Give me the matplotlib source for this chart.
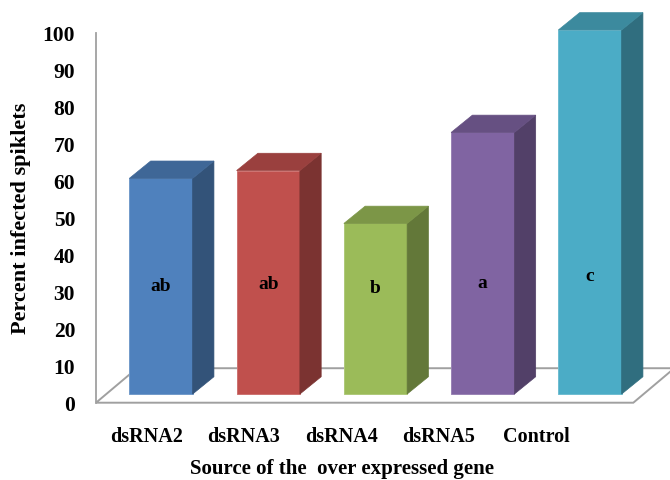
import matplotlib
matplotlib.use("Agg")
import matplotlib.pyplot as plt
from matplotlib.patches import Polygon
from matplotlib.colors import to_rgb

# Data
categories = ["dsRNA2", "dsRNA3", "dsRNA4", "dsRNA5", "Control"]
infected = [58.3, 60.4, 46.1, 70.7, 98.4]
letters = ["ab", "ab", "b", "a", "c"]
letter_y = [31.5, 32.0, 31.0, 32.4, 34.2]
yticks = list(range(0, 101, 10))

colors = ["#4F81BD", "#C0504D", "#9BBB59", "#8064A2", "#4BACC6"]

plt.rcParams["font.family"] = ["Liberation Serif", "DejaVu Serif"]
plt.rcParams["font.weight"] = "bold"

W, H = 670, 480
fig = plt.figure(figsize=(W / 100, H / 100), dpi=100)
ax = fig.add_axes([96 / W, (H - 403.3) / H, (W - 96) / W, 370 / H])

x_left, x_right = -0.606, 4.746
ax.set_xlim(x_left, x_right)
ax.set_ylim(0, 100)

# oblique projection parameters
bar_w = 0.59
bar_dx, bar_dy = 0.1986, 4.68      # depth of each column
base = 2.5                         # column foot sits behind the floor front edge
floor_front = 0.16
floor_right = 4.404
floor_dx, floor_dy = 0.382, 9.32

def shade(c, f):
    r, g, b = to_rgb(c)
    return (r * f, g * f, b * f)

def tint(c, f):
    r, g, b = to_rgb(c)
    return (r + (1 - r) * f, g + (1 - g) * f, b + (1 - b) * f)

# floor
floor = Polygon([(x_left, floor_front), (floor_right, floor_front),
                 (floor_right + floor_dx, floor_front + floor_dy),
                 (x_left + floor_dx, floor_front + floor_dy)],
                closed=True, facecolor="white", edgecolor="#A0A0A0",
                linewidth=1.4, zorder=1, clip_on=False)
ax.add_patch(floor)

xs = list(range(len(categories)))
bars = ax.bar(xs, infected, width=bar_w, bottom=base, color=colors,
              edgecolor=[tint(c, 0.2) for c in colors], linewidth=0.7, zorder=3)
for b in bars:
    b.set_clip_on(False)

for x, v, c in zip(xs, infected, colors):
    l, r = x - bar_w / 2, x + bar_w / 2
    t = base + v
    top = Polygon([(l, t), (r, t), (r + bar_dx, t + bar_dy), (l + bar_dx, t + bar_dy)],
                  closed=True, facecolor=shade(c, 0.80),
                  edgecolor=shade(c, 0.80), linewidth=0.5, zorder=3,
                  clip_on=False)
    side = Polygon([(r, base), (r + bar_dx, base + bar_dy), (r + bar_dx, t + bar_dy), (r, t)],
                   closed=True, facecolor=shade(c, 0.64),
                   edgecolor=shade(c, 0.64), linewidth=0.5, zorder=3, clip_on=False)
    ax.add_patch(side)
    ax.add_patch(top)

for x, s, ly in zip(xs, letters, letter_y):
    ax.text(x, ly, s, ha="center", va="center", fontsize=14,
            fontweight="bold", color="black", zorder=5)

# axes styling
for sp in ["top", "right", "bottom"]:
    ax.spines[sp].set_visible(False)
ax.spines["left"].set_color("#A0A0A0")
ax.spines["left"].set_linewidth(1.3)
ax.set_yticks(yticks)
ax.set_yticklabels([str(t) for t in yticks], fontsize=15.5, fontweight="bold")
ax.tick_params(axis="y", length=0, pad=15)

# category labels along the front edge of the floor
label_pos = [x * 0.909 - 0.135 for x in xs]
ax.set_xticks(label_pos)
ax.set_xticklabels(categories, fontsize=14.5, fontweight="bold")
ax.tick_params(axis="x", length=0, pad=17)

ax.set_ylabel("Percent infected spiklets", fontsize=16, fontweight="bold")
ax.yaxis.set_label_coords(-0.114, 0.5)

fig.text(342.4 / W, 1 - 474 / H, "Source of the  over expressed gene",
         ha="center", va="baseline", fontsize=15, fontweight="bold")

fig.savefig("out.png", dpi=100)
